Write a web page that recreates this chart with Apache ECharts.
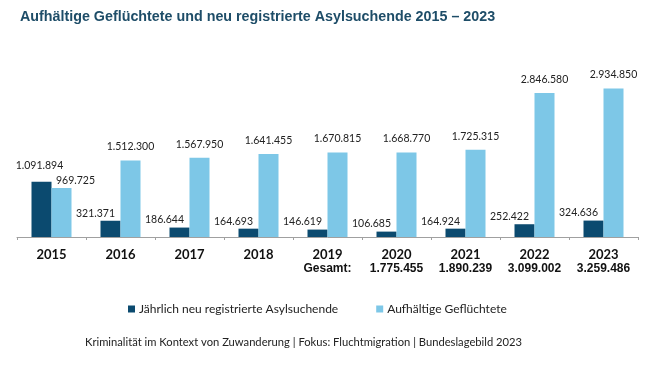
<!DOCTYPE html>
<html><head><meta charset="utf-8">
<script src="https://cdn.jsdelivr.net/npm/echarts@6/dist/echarts.min.js"></script>
<style>html,body{margin:0;padding:0;background:#fff}#c{width:649px;height:371px}</style>
</head><body><div id="c"></div>
<script>
const years = ['2015','2016','2017','2018','2019','2020','2021','2022','2023'];
const newAsylum = [1091894, 321371, 186644, 164693, 146619, 106685, 164924, 252422, 324636];
const refugees = [969725, 1512300, 1567950, 1641455, 1670815, 1668770, 1725315, 2846580, 2934850];
const totals = [null, null, null, null, 'Gesamt:', '1.775.455', '1.890.239', '3.099.002', '3.259.486'];
const seriesNames = ['Jährlich neu registrierte Asylsuchende', 'Aufhältige Geflüchtete'];
const titleText = 'Aufhältige Geflüchtete und neu registrierte Asylsuchende 2015 – 2023';
const footerText = 'Kriminalität im Kontext von Zuwanderung | Fokus: Fluchtmigration | Bundeslagebild 2023';

const fmt = v => v.toString().replace(/\B(?=(\d{3})+(?!\d))/g, '.');
const FONT = 'Lato';

const darkData = newAsylum.map((v, i) => i === 0
  ? { value: v, label: { offset: [-2, -9] } }
  : { value: v });
const lightData = refugees.map((v, i) => i === 0
  ? { value: v, label: { offset: [14, 6] } }
  : { value: v });

const chart = echarts.init(document.getElementById('c'), null, { renderer: 'canvas' });
chart.setOption({
  animation: false,
  title: [
    { text: titleText, left: 15, top: 5,
      textStyle: { fontFamily: 'Liberation Sans', fontWeight: 'bold', fontSize: 14.3, color: '#1e4d68' } },
    { text: footerText, left: 80, top: 332,
      textStyle: { fontFamily: FONT, fontWeight: 'normal', fontSize: 11.2, color: '#222' } }
  ],
  legend: {
    left: 123, top: 298, itemWidth: 7, itemHeight: 7, itemGap: 38, icon: 'rect',
    textStyle: { fontFamily: FONT, fontSize: 12, color: '#222', padding: [0, 0, 0, -1] },
    data: seriesNames
  },
  grid: { left: 17, right: 11, top: 60, bottom: 134 },
  xAxis: {
    type: 'category', data: years,
    axisLine: { lineStyle: { color: '#a0a0a0' } },
    axisTick: { show: true, length: 3, inside: false, lineStyle: { color: '#a0a0a0' } },
    axisLabel: {
      margin: 11, interval: 0,
      formatter: (val, idx) => totals[idx] ? '{y|' + val + '}\n{t|' + totals[idx] + '}' : '{y|' + val + '}',
      rich: {
        y: { fontFamily: FONT, fontWeight: 'bold', fontSize: 13, color: '#111', lineHeight: 14 },
        t: { fontFamily: 'Liberation Sans', fontWeight: 'bold', fontSize: 12, color: '#111', lineHeight: 14 }
      }
    }
  },
  yAxis: { type: 'value', min: 0, max: 3500000, show: false, splitLine: { show: false } },
  series: [
    { name: seriesNames[0], type: 'bar', data: darkData, barWidth: 20, barGap: '0%',
      itemStyle: { color: '#0b4a6f' },
      label: { show: true, position: 'top', distance: 2, offset: [-15, 0], formatter: p => fmt(p.value),
        fontFamily: FONT, fontSize: 10.5, color: '#222' } },
    { name: seriesNames[1], type: 'bar', data: lightData, barWidth: 20,
      itemStyle: { color: '#7dc7e7' },
      label: { show: true, position: 'top', distance: 8, formatter: p => fmt(p.value),
        fontFamily: FONT, fontSize: 10.5, color: '#222' } }
  ]
});
</script></body></html>
